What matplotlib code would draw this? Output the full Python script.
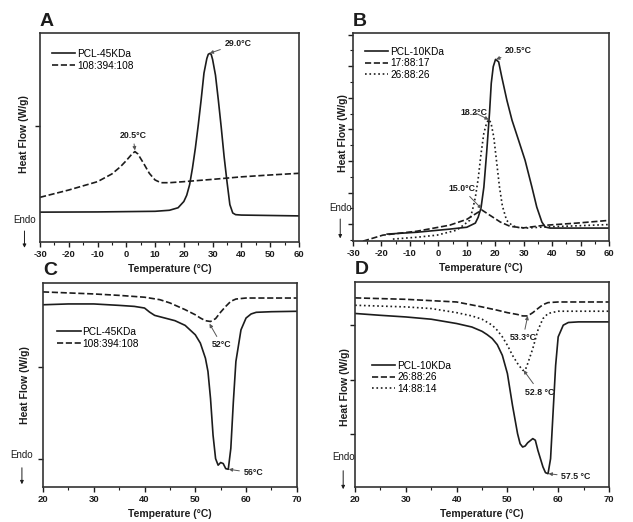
import matplotlib
matplotlib.use("Agg")
import numpy as np
from matplotlib import pyplot as plt
from matplotlib.ticker import MultipleLocator, FixedLocator, NullFormatter

plt.rcParams['font.family'] = ['Liberation Sans', 'DejaVu Sans']
plt.rcParams['axes.unicode_minus'] = False

# ---- Panel A: crystallisation, PCL-45KDa vs 108:394:108
a_t_pcl = [-30, -10, 10, 15, 18, 20, 21, 22, 23, 24, 25, 26, 27, 28, 28.5, 29, 29.5,
           30, 31, 32, 33, 34, 35, 36, 37, 38, 40, 50, 60]
a_y_pcl = [0.144, 0.145, 0.148, 0.153, 0.165, 0.195, 0.225, 0.275, 0.355, 0.45, 0.56,
           0.68, 0.81, 0.88, 0.90, 0.904, 0.90, 0.875, 0.80, 0.68, 0.55, 0.41, 0.29,
           0.18, 0.14, 0.132, 0.130, 0.128, 0.126]
a_t_blk = [-30, -20, -10, -5, -2, 0, 2, 3, 4, 6, 8, 10, 12, 15, 20, 30, 40, 50, 60]
a_y_blk = [0.215, 0.250, 0.290, 0.327, 0.362, 0.391, 0.423, 0.434, 0.423, 0.378,
           0.330, 0.298, 0.285, 0.285, 0.290, 0.301, 0.313, 0.322, 0.330]

# ---- Panel B: crystallisation, PCL-10KDa, 17:88:17, 26:88:26
b_t_pcl = [-18, -7.5, 4, 10, 13, 14, 15, 16, 17, 18, 18.6, 19.3, 20.1, 21.2, 22.3,
           24.1, 25.9, 28.2, 30.5, 32.9, 34.6, 36.4, 37.6, 39.3, 60]
b_y_pcl = [0.034, 0.043, 0.058, 0.067, 0.087, 0.115, 0.160, 0.26, 0.43, 0.62, 0.76,
           0.84, 0.875, 0.863, 0.79, 0.678, 0.582, 0.486, 0.389, 0.26, 0.164, 0.092,
           0.068, 0.063, 0.063]
b_t_17 = [-26.5, -19.5, -7.5, 4, 10, 13.5, 15.3, 18.2, 21.8, 25.3, 30, 37, 48.7, 60]
b_y_17 = [0.0, 0.029, 0.048, 0.077, 0.105, 0.135, 0.150, 0.124, 0.092, 0.071, 0.064,
          0.076, 0.087, 0.10]
b_t_26 = [-16, -7.5, -0.5, 6.5, 11, 12, 13, 14, 15, 16, 17, 17.7, 18.5, 19.5, 20.5,
          21.5, 22.5, 24, 26, 28, 31, 37, 48.7, 60]
b_y_26 = [0.010, 0.019, 0.029, 0.053, 0.10, 0.15, 0.21, 0.30, 0.42, 0.52, 0.57, 0.585,
          0.57, 0.50, 0.38, 0.26, 0.17, 0.10, 0.075, 0.066, 0.063, 0.068, 0.074, 0.08]

# ---- Panel C: melting, PCL-45KDa vs 108:394:108
c_t_pcl = [20, 25, 30, 35, 38, 40, 41, 42, 44, 46, 48, 50, 51, 52, 52.5, 53, 53.5, 54,
           54.5, 55, 55.5, 56, 56.5, 57, 57.5, 58, 59, 60, 61, 62, 65, 70]
c_y_pcl = [0.893, 0.897, 0.897, 0.890, 0.885, 0.877, 0.857, 0.841, 0.828, 0.815, 0.792,
           0.746, 0.705, 0.631, 0.566, 0.434, 0.254, 0.139, 0.107, 0.120, 0.115, 0.090,
           0.087, 0.189, 0.418, 0.615, 0.770, 0.828, 0.848, 0.856, 0.859, 0.861]
c_t_blk = [20, 25, 30, 35, 40, 43, 45, 48, 50, 51, 52, 53, 54, 55, 56, 57, 58, 60, 70]
c_y_blk = [0.956, 0.951, 0.946, 0.939, 0.930, 0.918, 0.902, 0.869, 0.844, 0.828, 0.815,
           0.811, 0.825, 0.857, 0.885, 0.910, 0.921, 0.926, 0.926]

# ---- Panel D: melting, PCL-10KDa, 26:88:26, 14:88:14
d_t_pcl = [20, 25, 30, 35, 40, 43, 45, 46, 47, 48, 49, 50, 51, 52, 52.5, 53, 53.5, 54,
           55, 55.5, 56, 57, 57.5, 58, 58.5, 59, 59.5, 60, 61, 62, 64, 70]
d_y_pcl = [0.846, 0.837, 0.829, 0.818, 0.797, 0.780, 0.759, 0.743, 0.724, 0.694, 0.642,
           0.553, 0.398, 0.260, 0.211, 0.195, 0.200, 0.216, 0.236, 0.228, 0.179, 0.098,
           0.070, 0.065, 0.138, 0.366, 0.593, 0.732, 0.789, 0.802, 0.805, 0.805]
d_t_26 = [20, 30, 40, 45, 48, 50, 52, 53, 54, 55, 56, 57, 58, 60, 70]
d_y_26 = [0.922, 0.915, 0.902, 0.878, 0.862, 0.850, 0.841, 0.834, 0.834, 0.850, 0.870,
          0.889, 0.899, 0.902, 0.902]
d_t_14 = [20, 30, 35, 40, 43, 45, 47, 48, 49, 50, 51, 52, 53, 53.5, 54, 55, 56, 57, 58,
          60, 70]
d_y_14 = [0.886, 0.878, 0.870, 0.850, 0.834, 0.818, 0.789, 0.764, 0.732, 0.691, 0.642,
          0.602, 0.569, 0.569, 0.602, 0.675, 0.764, 0.821, 0.846, 0.857, 0.857]

INK = '#1c1c1c'
LW = 1.2


def style_axes(ax, xlim, xmajor, ylim, yticks, xlab_y, ylab_x, ylab_y=0.5):
    ax.set_xlim(xlim)
    ax.set_ylim(ylim)
    ax.xaxis.set_major_locator(MultipleLocator(xmajor))
    ax.xaxis.set_minor_locator(MultipleLocator(xmajor / 2))
    ax.yaxis.set_major_locator(FixedLocator(yticks))
    ax.yaxis.set_major_formatter(NullFormatter())
    ax.tick_params(which='major', direction='out', length=3.5, width=1, colors=INK,
                   labelsize=6.8, pad=2)
    ax.tick_params(which='minor', direction='out', length=2, width=0.8, colors=INK)
    for lbl in ax.get_xticklabels():
        lbl.set_fontweight('bold')
    for s in ax.spines.values():
        s.set_linewidth(1.2)
        s.set_color('#333333')
    ax.set_xlabel('Temperature (°C)', fontsize=7.5, fontweight='bold', color=INK)
    ax.set_ylabel('Heat Flow (W/g)', fontsize=7.5, fontweight='bold', color=INK)
    ax.xaxis.set_label_coords(0.5, xlab_y)
    ax.yaxis.set_label_coords(ylab_x, ylab_y)


def endo(ax, x, ytext, y0, y1):
    ax.text(x, ytext, 'Endo', transform=ax.transAxes, ha='center', va='center',
            fontsize=7, color=INK)
    ax.annotate('', xy=(x, y1), xytext=(x, y0), xycoords='axes fraction',
                arrowprops=dict(arrowstyle='-|>', lw=0.7, color=INK, mutation_scale=5))


def note(ax, text, xy, xytext, ha='center'):
    ax.annotate(text, xy=xy, xytext=xytext, fontsize=6.3, fontweight='bold', color=INK,
                ha=ha, va='center',
                arrowprops=dict(arrowstyle='-|>', lw=0.7, color='#555555',
                                mutation_scale=5, shrinkA=1, shrinkB=0))


fig = plt.figure(figsize=(6.33, 5.22), dpi=100)

# A
axA = fig.add_axes([0.0632, 0.536, 0.409, 0.400])
axA.plot(a_t_pcl, a_y_pcl, '-', color=INK, lw=LW, label='PCL-45KDa')
axA.plot(a_t_blk, a_y_blk, '--', color=INK, lw=LW, label='108:394:108')
style_axes(axA, (-30, 60), 10, (0, 1), [0.555], -0.105, -0.043, 0.52)
axA.legend(loc='upper left', bbox_to_anchor=(0.01, 0.97), frameon=False, fontsize=7.3,
           handlelength=2.3, handletextpad=0.2, labelspacing=0.2)
note(axA, '29.0°C', (29, 0.905), (38.8, 0.952))
note(axA, '20.5°C', (3, 0.44), (2.3, 0.512))
endo(axA, -0.06, 0.105, 0.067, -0.04)
axA.text(0.0, 1.015, 'A', transform=axA.transAxes, fontsize=14, fontweight='bold',
         va='bottom', ha='left', color=INK)

# B
axB = fig.add_axes([0.5577, 0.538, 0.4044, 0.398])
axB.plot(b_t_pcl, b_y_pcl, '-', color=INK, lw=LW, label='PCL-10KDa')
axB.plot(b_t_17, b_y_17, '--', color=INK, lw=LW, label='17:88:17')
axB.plot(b_t_26, b_y_26, ':', color=INK, lw=LW, label='26:88:26')
style_axes(axB, (-30, 60), 10, (0, 1), list(np.arange(0.082, 1, 0.152)), -0.105,
           -0.018, 0.52)
axB.yaxis.set_minor_locator(FixedLocator(list(np.arange(0.006, 1, 0.152))))
axB.legend(loc='upper left', bbox_to_anchor=(0.01, 0.98), frameon=False, fontsize=7.3,
           handlelength=2.3, handletextpad=0.2, labelspacing=0.15)
note(axB, '20.5°C', (20.3, 0.875), (28.2, 0.918))
note(axB, '18.2°C', (17.7, 0.585), (12.6, 0.62))
note(axB, '15.0°C', (15.2, 0.156), (8.2, 0.255))
endo(axB, -0.05, 0.159, 0.12, 0.0)
axB.text(0.0, 1.015, 'B', transform=axB.transAxes, fontsize=14, fontweight='bold',
         va='bottom', ha='left', color=INK)

# C
axC = fig.add_axes([0.0679, 0.067, 0.401, 0.391])
axC.plot(c_t_pcl, c_y_pcl, '-', color=INK, lw=LW, label='PCL-45KDa')
axC.plot(c_t_blk, c_y_blk, '--', color=INK, lw=LW, label='108:394:108')
style_axes(axC, (20, 70), 10, (0, 1), [0.137, 0.588], -0.108, -0.052, 0.5)
axC.legend(loc='upper left', bbox_to_anchor=(0.02, 0.83), frameon=False, fontsize=7.3,
           handlelength=2.3, handletextpad=0.2, labelspacing=0.2)
note(axC, '52°C', (52.8, 0.80), (55.2, 0.696))
note(axC, '56°C', (56.6, 0.087), (59.5, 0.069), ha='left')
endo(axC, -0.083, 0.157, 0.108, 0.0)
axC.text(0.0, 1.02, 'C', transform=axC.transAxes, fontsize=14, fontweight='bold',
         va='bottom', ha='left', color=INK)

# D
axD = fig.add_axes([0.561, 0.067, 0.401, 0.393])
axD.plot(d_t_pcl, d_y_pcl, '-', color=INK, lw=LW, label='PCL-10KDa')
axD.plot(d_t_26, d_y_26, '--', color=INK, lw=LW, label='26:88:26')
axD.plot(d_t_14, d_y_14, ':', color=INK, lw=LW, label='14:88:14')
style_axes(axD, (20, 70), 10, (0, 1), [0.26, 0.524, 0.789], -0.108, -0.022, 0.485)
axD.legend(loc='upper left', bbox_to_anchor=(0.03, 0.66), frameon=False, fontsize=7.3,
           handlelength=2.3, handletextpad=0.2, labelspacing=0.15)
note(axD, '53.3°C', (54, 0.834), (53.1, 0.727))
note(axD, '52.8 °C', (53.2, 0.569), (56.3, 0.463))
note(axD, '57.5 °C', (58.1, 0.065), (60.6, 0.049), ha='left')
endo(axD, -0.047, 0.146, 0.093, -0.024)
axD.text(0.0, 1.02, 'D', transform=axD.transAxes, fontsize=14, fontweight='bold',
         va='bottom', ha='left', color=INK)

fig.savefig('out.png', dpi=100)
